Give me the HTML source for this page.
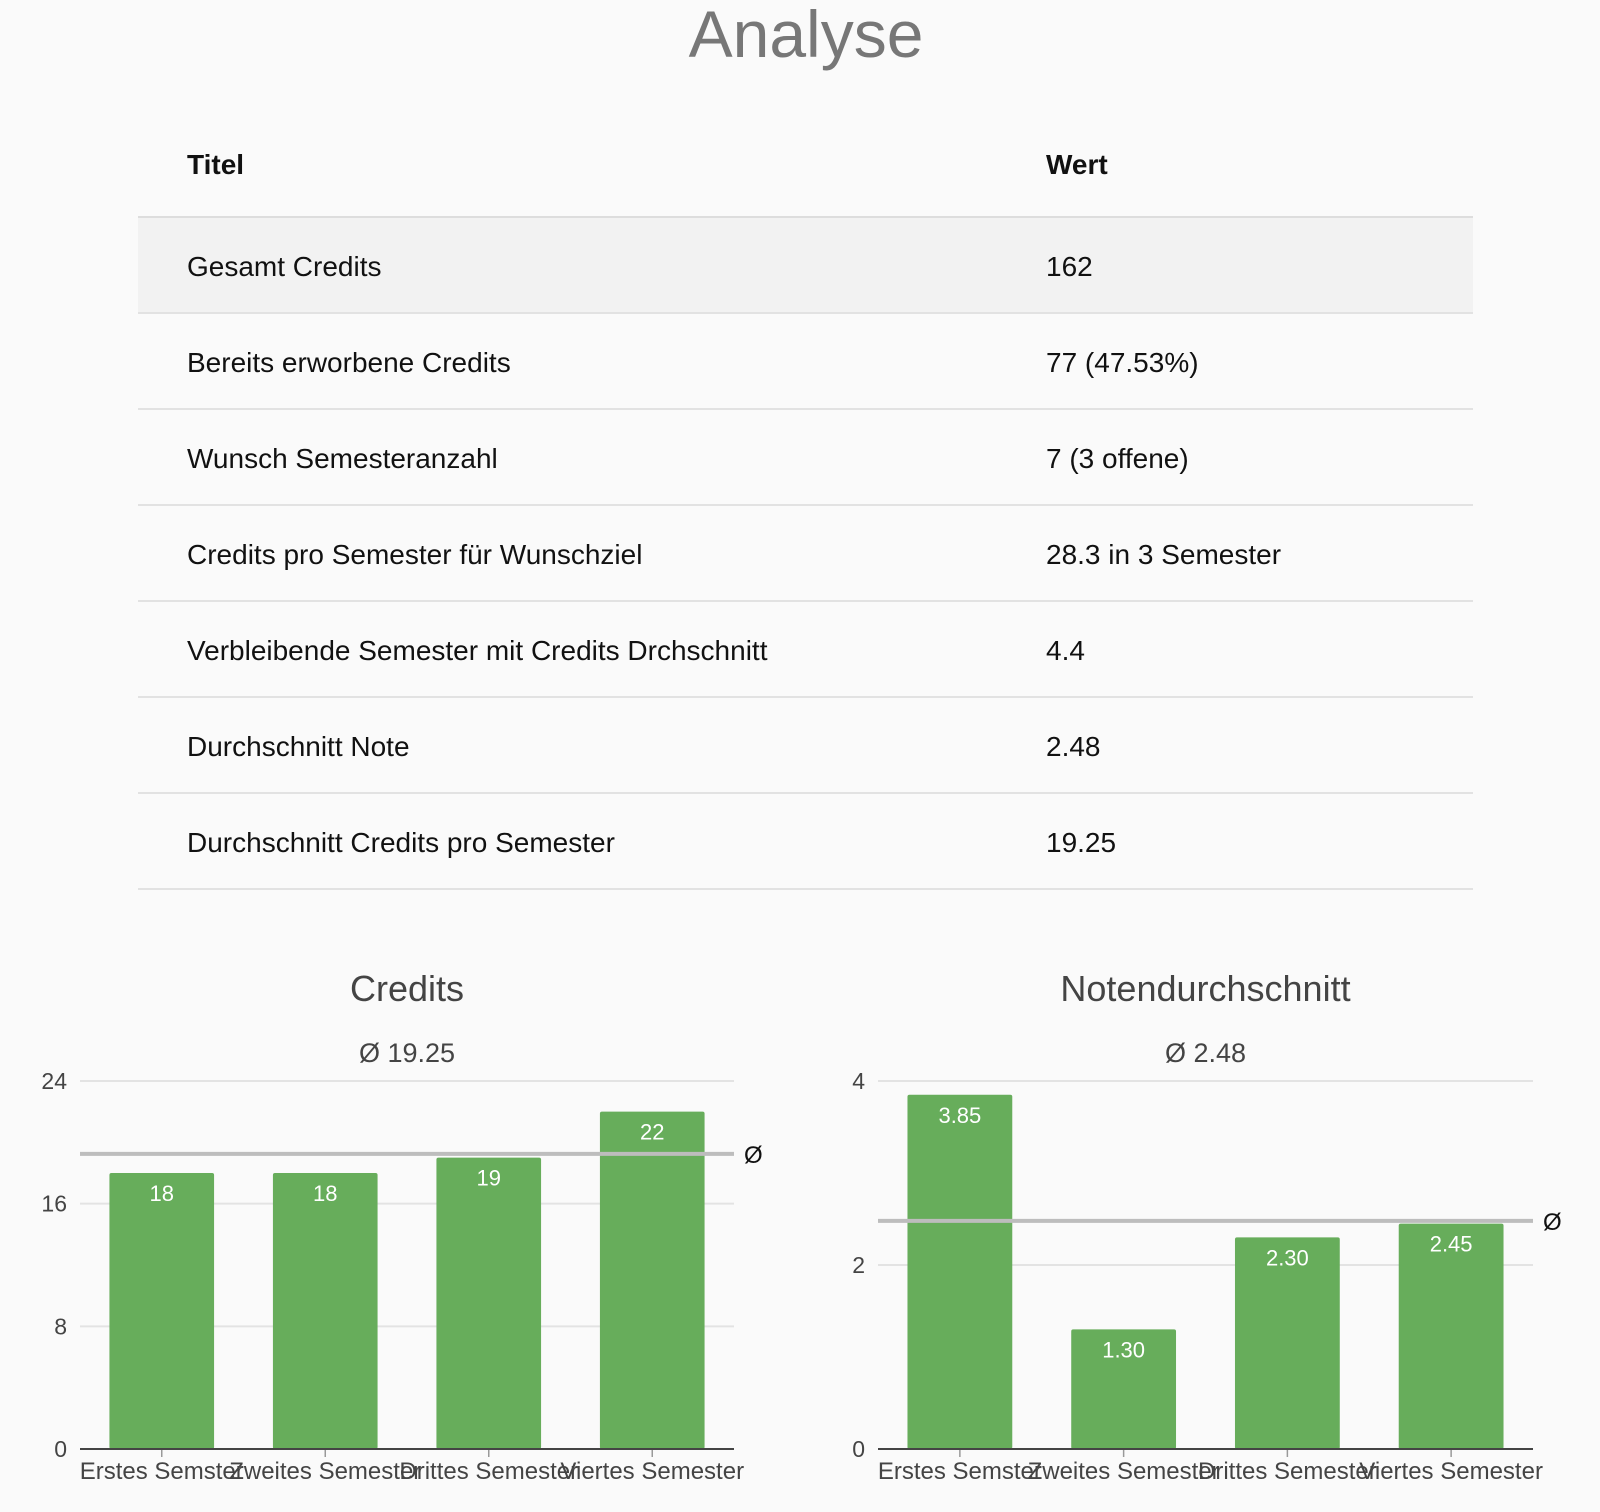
<!DOCTYPE html>
<html><head><meta charset="utf-8"><style>
html,body{margin:0;padding:0;background:#fafafa;width:1600px;height:1512px;overflow:hidden;font-family:"Liberation Sans",sans-serif;}
#title{position:absolute;left:0;width:1612px;top:-4px;text-align:center;font-size:66px;color:#777;margin:0;font-weight:normal;}
table{position:absolute;left:138px;top:120px;width:1335px;border-collapse:collapse;font-size:28px;color:#111;}
th{text-align:left;font-weight:bold;height:97px;padding:0 0 6px 49px;border-bottom:2px solid #ddd;box-sizing:border-box;}
td{height:96px;padding:4px 0 0 49px;border-bottom:2px solid #e2e2e2;box-sizing:border-box;}
tr.first td{background:#f2f2f2;}
svg{position:absolute;left:0;top:0;}
</style></head><body>
<h1 id="title">Analyse</h1>
<table>
<tr><th style="width:859px">Titel</th><th>Wert</th></tr>
<tr class="first"><td>Gesamt Credits</td><td>162</td></tr>
<tr><td>Bereits erworbene Credits</td><td>77 (47.53%)</td></tr>
<tr><td>Wunsch Semesteranzahl</td><td>7 (3 offene)</td></tr>
<tr><td>Credits pro Semester für Wunschziel</td><td>28.3 in 3 Semester</td></tr>
<tr><td>Verbleibende Semester mit Credits Drchschnitt</td><td>4.4</td></tr>
<tr><td>Durchschnitt Note</td><td>2.48</td></tr>
<tr><td>Durchschnitt Credits pro Semester</td><td>19.25</td></tr>
</table>
<svg id="charts" width="1600" height="1512"></svg>
<script>
const categories = ["Erstes Semster","Zweites Semester","Drittes Semester","Viertes Semester"];
const creditValues = [18,18,19,22];
const creditTicks = [0,8,16,24];
const creditAvg = 19.25;
const creditLabels = ["18","18","19","22"];
const noteValues = [3.85,1.30,2.30,2.45];
const noteTicks = [0,2,4];
const noteAvg = 2.48;
const noteLabels = ["3.85","1.30","2.30","2.45"];

const NS="http://www.w3.org/2000/svg";
const svg=document.getElementById('charts');
function mk(tag,attrs,parent,text){const e=document.createElementNS(NS,tag);for(const k in attrs)e.setAttribute(k,attrs[k]);if(text!==undefined)e.textContent=text;(parent||svg).appendChild(e);return e;}

function chart(cfg){
  const g=mk('g',{});
  
  
  const x0=cfg.x0,x1=cfg.x1,yTop=1081,yBot=1449;
  const max=cfg.ticks[cfg.ticks.length-1];
  const y=v=>yBot-(v/max)*(yBot-yTop);
  const band=(x1-x0)/cfg.values.length;
  const xc=i=>x0+band*(i+0.5);
  const t=mk('text',{x:(x0+x1)/2,y:1001,'text-anchor':'middle','font-size':36,fill:'#444'},g,cfg.title);
  
  
  const s=mk('text',{x:(x0+x1)/2,y:1062,'text-anchor':'middle','font-size':27,fill:'#444'},g,'Ø '+cfg.avg);
  
  
  cfg.ticks.forEach(v=>{
    if(v>0){const l=mk('line',{x1:x0,x2:x1,y1:y(v),y2:y(v),stroke:'#e3e3e3','stroke-width':2},g);
      
      }
    const tl=mk('text',{x:x0-13,y:y(v)+8,'text-anchor':'end','font-size':23,fill:'#444'},g,String(v));
    
    
  });
  cfg.values.forEach((v,i)=>{
    const bw=band*0.64;
    const r=mk('rect',{x:xc(i)-bw/2,y:y(v),width:bw,height:yBot-y(v),fill:'#67ad5b',rx:2},g);
    
    
    const vl=mk('text',{x:xc(i),y:y(v)+28,'text-anchor':'middle','font-size':22,fill:'#fff'},g,cfg.labels[i]);
    
    
    const tk=mk('line',{x1:xc(i),x2:xc(i),y1:yBot,y2:yBot+8,stroke:'#999','stroke-width':1.5},g);
    
    
    const xl=mk('text',{x:xc(i),y:1479,'text-anchor':'middle','font-size':24,fill:'#444'},g,categories[i]);
    
    
  });
  const al=mk('line',{x1:x0,x2:x1,y1:y(cfg.avg),y2:y(cfg.avg),stroke:'#bdbdbd','stroke-width':4},g);
  
  
  const at=mk('text',{x:x1+10,y:y(cfg.avg)+9,'font-size':24,fill:'#111'},g,'Ø');
  
  
  const ax=mk('line',{x1:x0,x2:x1,y1:yBot,y2:yBot,stroke:'#444','stroke-width':2},g);
  
  
}
chart({name:'credits-chart',title:'Credits',x0:80,x1:734,values:creditValues,ticks:creditTicks,avg:creditAvg,labels:creditLabels});
chart({name:'noten-chart',title:'Notendurchschnitt',x0:878,x1:1533,values:noteValues,ticks:noteTicks,avg:noteAvg,labels:noteLabels});
</script>
</body></html>
